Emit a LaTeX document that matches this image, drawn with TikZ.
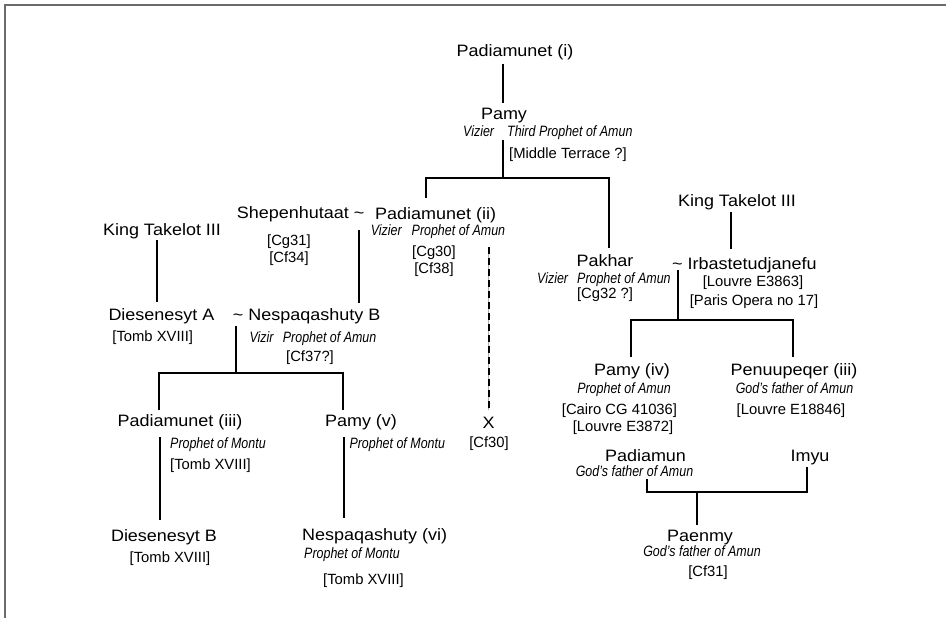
\documentclass[tikz,border=0pt]{standalone}
\usepackage{fontspec}
\setmainfont{Liberation Sans}
\newfontfamily\nmfont{Liberation Sans}[FakeStretch=1.09]
\newfontfamily\itfont{Liberation Sans}[FakeStretch=0.83]
\begin{document}
\begin{tikzpicture}[x=1pt,y=-1pt,
  nm/.style={font=\nmfont\fontsize{16.5}{18}\selectfont, inner sep=0pt, anchor=base},
  it/.style={font=\itfont\itshape\fontsize{15}{16}\selectfont, inner sep=0pt, anchor=base},
  rf/.style={font=\fontsize{14.8}{16}\selectfont, inner sep=0pt, anchor=base},
  ln/.style={line width=1.9pt, black},
  dln/.style={line width=2.2pt, black, dash pattern=on 7pt off 4pt},
  thinln/.style={line width=0.5pt, gray!60},
  frame/.style={line width=1.6pt, black!58}]
\useasboundingbox (0,0) rectangle (946,618);
\draw[frame] (5,618) -- (5,5) -- (946,5);

% ---- names and labels ----
\node[nm] (p1) at (515,57) {Padiamunet (i)};
\node[nm] (pamy) at (504,119.5) {Pamy};
\node[it,anchor=base west] (pamyv) at (463,136) {Vizier};
\node[it,anchor=base west] (pamyt) at (507,136) {Third Prophet of Amun};
\node[rf,anchor=base west] (pamyr) at (509,158.7) {[Middle Terrace ?]};

\node[nm,anchor=base west] (shep) at (236.7,218.5) {Shepenhutaat \textasciitilde};
\node[rf] (shepa) at (289,245.5) {[Cg31]};
\node[rf] (shepb) at (289,262.5) {[Cf34]};
\node[nm,anchor=base west] (p2) at (375,219.5) {Padiamunet (ii)};
\node[it,anchor=base east] (p2v) at (402,235) {Vizier};
\node[it,anchor=base west] (p2p) at (411.5,235) {Prophet of Amun};
\node[rf] (p2a) at (434,256) {[Cg30]};
\node[rf] (p2b) at (434,273.5) {[Cf38]};

\node[nm] (ktl) at (162,235) {King Takelot III};
\node[nm] (ktr) at (737,206) {King Takelot III};

\node[nm] (pakhar) at (605,266.7) {Pakhar};
\node[it,anchor=base west] (pakv) at (537,283) {Vizier};
\node[it,anchor=base west] (pakp) at (577,283) {Prophet of Amun};
\node[rf] (pakr) at (605,298) {[Cg32 ?]};

\node[nm,anchor=base west] (irb) at (672,269) {\textasciitilde{} Irbastetudjanefu};
\node[rf] (irba) at (753,286) {[Louvre E3863]};
\node[rf] (irbb) at (754,305) {[Paris Opera no 17]};

\node[nm,anchor=base west] (dsa) at (108.3,320.5) {Diesenesyt A};
\node[rf] (dsar) at (152.7,341) {[Tomb XVIII]};
\node[nm,anchor=base west] (nsb) at (232.7,320.5) {\textasciitilde{} Nespaqashuty B};
\node[it,anchor=base west] (nsbv) at (249.3,342.7) {Vizir};
\node[it,anchor=base west] (nsbp) at (282.7,342.7) {Prophet of Amun};
\node[rf] (nsbr) at (310,361) {[Cf37?]};

\node[nm] (pamy4) at (632,375) {Pamy (iv)};
\node[it] (pamy4i) at (624,393) {Prophet of Amun};
\node[rf] (pamy4a) at (619.5,414.5) {[Cairo CG 41036]};
\node[rf] (pamy4b) at (623,431) {[Louvre E3872]};
\node[nm] (pen) at (794,375) {Penuupeqer (iii)};
\node[it] (peni) at (794.5,393) {God’s father of Amun};
\node[rf] (penr) at (791,414.5) {[Louvre E18846]};

\node[nm] (xx) at (488.7,428.3) {X};
\node[rf] (xxr) at (489,447) {[Cf30]};

\node[nm] (p3) at (180,426.7) {Padiamunet (iii)};
\node[it,anchor=base west] (p3i) at (170,448.3) {Prophet of Montu};
\node[rf,anchor=base west] (p3r) at (170,469.5) {[Tomb XVIII]};
\node[nm] (pamy5) at (361,426.7) {Pamy (v)};
\node[it,anchor=base west] (pamy5i) at (349.3,448.3) {Prophet of Montu};

\node[nm] (padm) at (645.5,461.7) {Padiamun};
\node[it] (padmi) at (634.5,476.7) {God’s father of Amun};
\node[nm] (imyu) at (810,461.7) {Imyu};

\node[nm] (dsb) at (164,541) {Diesenesyt B};
\node[rf] (dsbr) at (170,562.5) {[Tomb XVIII]};
\node[nm,anchor=base west] (ns6) at (302,540) {Nespaqashuty (vi)};
\node[it] (ns6i) at (352,558) {Prophet of Montu};
\node[rf] (ns6r) at (363.5,584) {[Tomb XVIII]};

\node[nm] (paen) at (700,541.7) {Paenmy};
\node[it] (paeni) at (702,556.7) {God’s father of Amun};
\node[rf] (paenr) at (708,576) {[Cf31]};

% ---- connector points ----
\coordinate (c1a) at (502.7,64);
\coordinate (c1b) at (502.7,103);
\coordinate (c2a) at (502.7,140);
\coordinate (c2b) at (502.7,178);
\coordinate (barL) at (425.7,178);
\coordinate (barR) at (609,178);
\coordinate (p2top) at (425.7,198);
\coordinate (paktop) at (609,248);
\coordinate (ktla) at (156.7,240);
\coordinate (ktlb) at (156.7,301.7);
\coordinate (shepa1) at (359.3,230);
\coordinate (shepb1) at (359.3,303.3);
\coordinate (dtop) at (488.7,247);
\coordinate (dbot) at (488.7,410);
\coordinate (ktra) at (731,212);
\coordinate (ktrb) at (731,249);
\coordinate (irbA) at (677.7,270);
\coordinate (irbB) at (677.7,320);
\coordinate (bar2L) at (630.7,320);
\coordinate (bar2R) at (792.7,320);
\coordinate (p4top) at (630.7,357);
\coordinate (pentop) at (792.7,357);
\coordinate (nsA) at (236,326);
\coordinate (nsB) at (236,372.7);
\coordinate (bar3L) at (159,372.7);
\coordinate (bar3R) at (343.3,372.7);
\coordinate (p3top) at (159,410);
\coordinate (p5top) at (343.3,410);
\coordinate (p3a) at (160,437.3);
\coordinate (p3b) at (160,520);
\coordinate (p5a) at (344,437);
\coordinate (p5b) at (344,518);
\coordinate (padA) at (646.7,479);
\coordinate (padB) at (646.7,491.7);
\coordinate (imA) at (807.3,467);
\coordinate (imB) at (807.3,491.7);
\coordinate (midA) at (696.7,491.7);
\coordinate (midB) at (696.7,525);

% ---- connectors ----
\draw[ln] (c1a) -- (c1b);
\draw[ln] (c2a) -- (c2b);
\draw[ln] (p2top) -- (barL) -- (barR) -- (paktop);
\draw[ln] (ktla) -- (ktlb);
\draw[ln] (shepa1) -- (shepb1);
\draw[thinln] (dtop) -- (dbot);
\draw[dln] (dtop) -- (dbot);
\draw[ln] (ktra) -- (ktrb);
\draw[ln] (irbA) -- (irbB);
\draw[ln] (p4top) -- (bar2L) -- (bar2R) -- (pentop);
\draw[ln] (nsA) -- (nsB);
\draw[ln] (p3top) -- (bar3L) -- (bar3R) -- (p5top);
\draw[ln] (p3a) -- (p3b);
\draw[ln] (p5a) -- (p5b);
\draw[ln] (padA) -- (padB) -- (imB) -- (imA);
\draw[ln] (midA) -- (midB);
\end{tikzpicture}
\end{document}
